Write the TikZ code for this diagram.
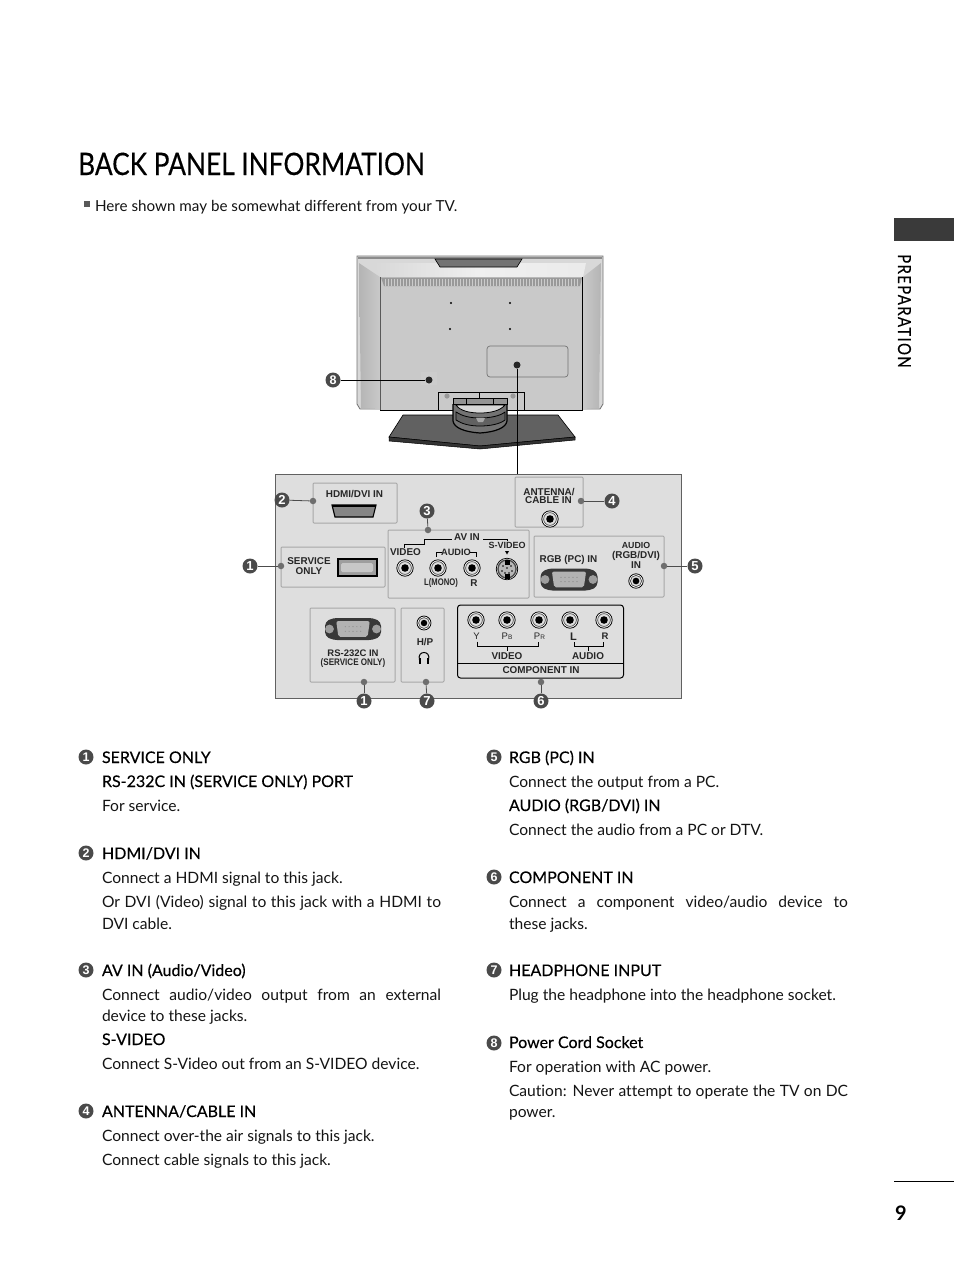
\documentclass[tikz,border=0pt]{standalone}
\usepackage{fontspec}
\setmainfont{Lato}[Ligatures={NoCommon}]
\newfontfamily\labfont{Liberation Sans}
\usetikzlibrary{calc}
\definecolor{panelgray}{HTML}{DEDEDE}
\definecolor{subedge}{HTML}{A8A8A8}
\definecolor{badgegray}{HTML}{4A4A4A}
\definecolor{dotgray}{HTML}{6E6E6E}
\definecolor{tvlight}{HTML}{D8D8D8}
\definecolor{tvmid}{HTML}{C9C9C9}
\definecolor{tvside}{HTML}{B4B4B4}
\definecolor{tabdark}{HTML}{3A3A3A}
\newcount\tlc
\newcommand{\tl}[3]{\global\advance\tlc by 1 \node[txt] (t\the\tlc) at (#1,#2) {#3};}
\newcommand{\hl}[3]{\global\advance\tlc by 1 \node[hdg] (t\the\tlc) at (#1,#2) {\addfontfeature{FakeBold=.3}#3};}
\newcommand{\jl}[3]{\global\advance\tlc by 1 \node[txt] (t\the\tlc) at (#1,#2) {\makebox[339pt][s]{#3}};}
\newcommand{\lb}[3]{\global\advance\tlc by 1 \node[lab] (t\the\tlc) at (#1,#2) {#3};}
\newcommand{\jack}[3][1]{%
  \fill[white] (#2,#3) circle ({8.6*#1});
  \draw[black,line width=.8] (#2,#3) circle ({8.2*#1});
  \draw[black!70,line width=.7,fill=panelgray] (#2,#3) circle ({6.4*#1});
  \fill[black] (#2,#3) circle ({3.8*#1});}
\newcommand{\dsub}[3]{% x width height, uses \dsubY
  \fill[black!78,rounded corners=4] (#1-#2/2,\dsubY-#3*.32) -- (#1-#2/2+#2*.14,\dsubY-#3/2) -- (#1+#2/2-#2*.14,\dsubY-#3/2) -- (#1+#2/2,\dsubY-#3*.32) -- (#1+#2/2,\dsubY+#3*.32) -- (#1+#2/2-#2*.14,\dsubY+#3/2) -- (#1-#2/2+#2*.14,\dsubY+#3/2) -- (#1-#2/2,\dsubY+#3*.32) -- cycle;
  \fill[black!38] (#1-#2/2+#2*.08,\dsubY) circle (#3*.2);
  \fill[black!38] (#1+#2/2-#2*.08,\dsubY) circle (#3*.2);
  \fill[black!30,rounded corners=2] (#1-#2*.3,\dsubY-#3*.36) -- (#1+#2*.3,\dsubY-#3*.36) -- (#1+#2*.26,\dsubY+#3*.36) -- (#1-#2*.26,\dsubY+#3*.36) -- cycle;
  \foreach \q in {-2,-1,0,1,2}{\fill[black!75] (#1+\q*#2*.07,\dsubY-#3*.1) circle (.35); \fill[black!75] (#1+\q*#2*.07,\dsubY+#3*.1) circle (.35);}}
\tikzset{
  txt/.style={anchor=base west,inner sep=0,outer sep=0,font=\fontsize{15.6}{16}\selectfont,text=black!92},
  hdg/.style={txt,font=\fontsize{16}{16}\selectfont,text=black},
  lab/.style={inner sep=0,outer sep=0,align=center,font=\labfont\bfseries\fontsize{9.9}{10}\selectfont,text=black!85},
  sub/.style={draw=subedge,line width=1,fill=panelgray,rounded corners=1,inner sep=0},
  badge/.style={circle,fill=badgegray,text=white,inner sep=0,minimum size=15,font=\labfont\bfseries\fontsize{13}{13}\selectfont},
  cbadge/.style={circle,fill=badgegray,text=white,inner sep=0,minimum size=15,font=\labfont\bfseries\fontsize{12.5}{12.5}\selectfont},
  pdot/.style={circle,fill=dotgray,inner sep=0,minimum size=6.5},
  bdot/.style={circle,fill=black!85,inner sep=0,minimum size=7},
  wire/.style={draw=black!70,line width=.8},
  brk/.style={draw=black,line width=.7},
}
\begin{document}
\begin{tikzpicture}[x=1pt,y=-1pt]
\useasboundingbox (0,0) rectangle (954,1272);
\fill[white] (0,0) rectangle (954,1272);
% Right tab and page furniture
\fill[tabdark] (894,218) rectangle (954,241);
\draw[black,line width=.8] (894,1181) -- (954,1181);
\node[inner sep=0,rotate=-90,anchor=base west,font=\fontsize{18}{18}\selectfont,text=black] (prep) at (898,254) {\scalebox{.83}[1]{\addfontfeature{LetterSpace=9,FakeBold=.2}PREPARATION}};
\node[inner sep=0,anchor=base,font=\bfseries\fontsize{20}{20}\selectfont] (pageno) at (901,1220) {9};
% Title
\node[inner sep=0,anchor=base west,font=\fontsize{31}{31}\selectfont] (title) at (78,175) {\scalebox{.846}[1]{\addfontfeature{FakeBold=.3}BACK PANEL INFORMATION}};
\fill[black!65] (84,201) rectangle (90,207);
\global\advance\tlc by 1 \node[txt,font=\fontsize{15.2}{16}\selectfont] (t\the\tlc) at (95,211) {Here shown may be somewhat different from your TV.};

% ---------- TV ----------
\path[fill=tvlight,draw=black!55,line width=.8] (357,256) -- (603,256) -- (603,404) -- (600,409) -- (360,409) -- (357,404) -- cycle;
\fill[black!45] (358,257) rectangle (602,258.5);
\shade[left color=tvside,right color=tvmid] (359,263) -- (380,277) -- (380,409) -- (361,408) -- cycle;
\shade[left color=tvmid,right color=tvside] (583,277) -- (601,263) -- (599,408) -- (583,409) -- cycle;
\shade[left color=tvlight,right color=black!8,middle color=black!6] (374,263) -- (586,263) -- (583,277) -- (380,277) -- cycle;
\path[fill=black!55,draw=black,line width=.6] (435,259) -- (522,259) -- (517,267) -- (440,267) -- cycle;
\fill[tvmid] (380,277) rectangle (583,410);
\fill[black!40] (381,277.5) -- (582,277.5) -- (580,286) -- (384,286) -- cycle;
\foreach \vx in {385,388,...,578}{\draw[black!20,line width=.5] (\vx,278.5) -- (\vx,285.5);}
\draw[black!65,line width=.9] (380.5,277) -- (380.5,410);
\draw[black,line width=1] (582.5,277) -- (582.5,410) -- (380,410);
\foreach \hx/\hy in {451/303,510/303,450/329,510/329}{\fill[black] (\hx,\hy) circle (1.2);}
\path[draw=black!55,fill=tvmid,line width=.7,rounded corners=3] (487,346) rectangle (568,377);
\fill[black!20] (421,372) rectangle (437,385);
% Stand neck
\path[draw=black,fill=tvmid,line width=.9] (438,410) -- (438,392) -- (524,392) -- (524,410);
\draw[black,line width=.9] (479,392) -- (479,398);
\fill[black!40] (447,396) circle (2.6);
\fill[black!40] (513,396) circle (2.6);
% Stand base
\path[fill=black!62,draw=black,line width=.6] (403,415) -- (558,415) -- (575,437) -- (480,446) -- (389,437) -- cycle;
\path[fill=black!80,draw=black,line width=.5] (389,437) -- (480,446) -- (575,437) -- (575,440) -- (480,449) -- (389,441) -- cycle;
% Stand bracket
\path[fill=black!55] (453,404) -- (453,421) .. controls (454,428) and (465,432) .. (480,433) .. controls (495,432) and (506,428) .. (507,421) -- (507,404) -- cycle;
\path[fill=black!42,draw=black,line width=.9] (453,404) -- (453,398) -- (507,398) -- (507,404) -- cycle;
\draw[black,line width=.9] (466,398) -- (466,404) (493,398) -- (493,404);
\path[draw=black,line width=1.2] (453,404) -- (453,421) .. controls (454,428) and (465,432) .. (480,433) .. controls (495,432) and (506,428) .. (507,421) -- (507,404);
\path[draw=black,fill=tvlight,line width=.8] (456,405) .. controls (460,411) and (470,413) .. (480,413) .. controls (490,413) and (500,411) .. (505,405) -- cycle;
\path[draw=black,fill=black!62,line width=.8] (456,420) -- (456,412) .. controls (462,416) and (470,418) .. (480,418) .. controls (490,418) and (500,416) .. (505,412) -- (505,420) .. controls (500,424) and (490,426) .. (480,426) .. controls (470,426) and (462,424) .. (456,420) -- cycle;
\fill[black!35] (476,418) -- (485,418) -- (483,422) -- (478,422) -- cycle;
\node[bdot] (powerdot) at (429,380) {};
\node[bdot] (inputdot) at (517,365) {};
\node[cbadge] (b8) at (333,380) {8};
\draw[draw=black,line width=.8] (b8) -- (powerdot);

% ---------- Connection panel ----------
\node[draw=black!62,line width=1,fill=panelgray,minimum width=406,minimum height=224,inner sep=0] (panel) at (478,586) {};
\draw[draw=black,line width=.8] (inputdot) -- (panel.north -| inputdot);

\node[sub,minimum width=84,minimum height=40] (hdmi) at (355,503) {};
\node[sub,minimum width=104,minimum height=40] (service) at (333,567) {};
\node[sub,minimum width=141,minimum height=68] (av) at (458.5,564) {};
\node[sub,minimum width=68,minimum height=50] (ant) at (549,502) {};
\node[sub,minimum width=130,minimum height=61] (rgb) at (599,566.5) {};
\node[sub,minimum width=85,minimum height=74] (rs) at (352.5,645) {};
\node[sub,minimum width=43,minimum height=74] (hp) at (422.5,645) {};
\node[draw=black,line width=1,fill=panelgray,rounded corners=3,inner sep=0,minimum width=166,minimum height=73] (comp) at (540.5,641.5) {};

% dots and badges
\node[pdot] (d2) at (313,501) {}; \node[badge] (b2) at (282,500) {2}; \draw[wire] (b2) -- (d2);
\node[pdot] (d1a) at (281,566) {}; \node[badge] (b1a) at (250,566) {1}; \draw[wire] (b1a) -- (d1a);
\node[pdot] (d3) at (428,530) {}; \node[badge] (b3) at (427,511) {3}; \draw[wire] (b3) -- (d3);
\node[pdot] (d4) at (581,501) {}; \node[badge] (b4) at (612,501) {4}; \draw[wire] (b4) -- (d4);
\node[pdot] (d5) at (664,566) {}; \node[badge] (b5) at (695,566) {5}; \draw[wire] (b5) -- (d5);
\node[pdot] (d1b) at (364,682) {}; \node[badge] (b1b) at (364,701) {1}; \draw[wire] (b1b) -- (d1b);
\node[pdot] (d7) at (426,682) {}; \node[badge] (b7) at (427,701) {7}; \draw[wire] (b7) -- (d7);
\node[pdot] (d6) at (541,682) {}; \node[badge] (b6) at (541,701) {6}; \draw[wire] (b6) -- (d6);

% HDMI
\lb{354.5}{494}{HDMI/DVI IN}
\path[fill=black!48,draw=black,line width=1.1] (332,505) -- (376,505) -- (373,517) -- (335,517) -- cycle;
\fill[black] (332,505) rectangle (376,506.5);
% Service only
\lb{309}{566.5}{SERVICE\\ONLY}
\path[draw=black,line width=1.2,fill=black!38] (338,559) rectangle (377,576);
\fill[black!22,rounded corners=1.5] (341,563) rectangle (373,572);
% AV IN
\lb{467}{537}{AV IN}
\lb{405.5}{552}{VIDEO}
\lb{456}{552}{\fontsize{9.2}{10}\selectfont AUDIO}
\lb{507}{545.5}{\fontsize{9}{10}\selectfont S-VIDEO}
\lb{441}{583.5}{\scalebox{.8}[1]{\fontsize{9.6}{10}\selectfont L(MONO)}}
\lb{474}{583.5}{R}
\draw[brk] (451.5,539.5) -- (424,539.5) -- (424,544.5) -- (404,544.5) -- (404,548);
\draw[brk] (483,539) -- (507,539) -- (507,541);
\draw[brk] (436,557) -- (436,552) -- (441.5,552);
\draw[brk] (470,552) -- (476,552) -- (476,557);
\fill[black] (505,551) -- (509,551) -- (507,554.5) -- cycle;
\jack{405}{568}\jack{438}{568}\jack{472}{568}
% S-video
\fill[white] (507,569) circle (11.5);
\draw[black,line width=.8] (507,569) circle (10.8);
\fill[black!70] (507,569) circle (9.8);
\fill[black!28] (507,569) circle (8.2);
\fill[black] (504.5,559.5) rectangle (509.5,564.5);
\fill[black] (504.5,573.5) rectangle (509.5,578.5);
\foreach \sx/\sy in {503/566,511/566,507/568,502/571,512/571,505/573,509/573}{\fill[black] (\sx,\sy) circle (.9);}
% Antenna
\lb{549}{492}{ANTENNA/}
\lb{548.5}{500}{CABLE IN}
\jack{550}{519}
% RGB
\lb{568.5}{559.5}{RGB (PC) IN}
\lb{636}{555}{\fontsize{8.8}{9.9}\selectfont AUDIO\\(RGB/DVI)\\IN}
\def\dsubY{579.5}\dsub{569}{57}{22}
\jack[.88]{636}{581}
% RS-232C
\def\dsubY{629}\dsub{353}{56}{22}
\lb{353}{653}{\fontsize{9.5}{10}\selectfont RS-232C IN}
\lb{353}{663.5}{\scalebox{.85}[1]{\fontsize{9.5}{10}\selectfont (SERVICE ONLY)}}
% H/P
\jack[.85]{424}{623}
\lb{425}{642}{H/P}
\draw[black,line width=1] (419.5,660) .. controls (416.5,650) and (431.5,650) .. (428.5,660);
\fill[black] (419,658) rectangle (421,664);
\fill[black] (427,658) rectangle (429,664);
% Component
\draw[black,line width=1] (comp.west |- 0,663.5) -- (comp.east |- 0,663.5);
\lb{541}{670.5}{COMPONENT IN}
\jack{476}{620}\jack{507}{620}\jack{539}{620}\jack{570}{620}\jack{604}{620}
\lb{476.5}{636}{\mdseries\fontsize{9.5}{10}\selectfont Y}
\lb{507}{636}{\mdseries\fontsize{9.5}{10}\selectfont P\fontsize{6.5}{6.5}\selectfont B}
\lb{539.5}{636}{\mdseries\fontsize{9.5}{10}\selectfont P\fontsize{6.5}{6.5}\selectfont R}
\lb{605}{636}{\fontsize{9.5}{10}\selectfont R}
\lb{573.5}{636.5}{\fontsize{11}{11}\selectfont L}
\draw[brk] (477,641.5) -- (477,646) -- (538,646) -- (538,641.5);
\draw[brk] (507,646) -- (507,651);
\draw[brk] (574,642) -- (574,646) -- (603,646) -- (603,641.5);
\draw[brk] (588,646) -- (588,651);
\lb{507}{656.5}{VIDEO}
\lb{588}{656.5}{AUDIO}

% ---------- Left column ----------
\node[cbadge] (c1) at (86,757) {1};
\hl{102}{763}{SERVICE ONLY}
\hl{102}{787}{RS-232C IN (SERVICE ONLY) PORT}
\tl{102}{811}{For service.}
\node[cbadge] (c2) at (86,853) {2};
\hl{102}{859}{HDMI/DVI IN}
\tl{102}{883}{Connect a HDMI signal to this jack.}
\jl{102}{907}{Or DVI (Video) signal to this jack with a HDMI to}
\tl{102}{929}{DVI cable.}
\node[cbadge] (c3) at (86,970) {3};
\hl{102}{976}{AV IN (Audio/Video)}
\jl{102}{1000}{Connect audio/video output from an external}
\tl{102}{1021}{device to these jacks.}
\hl{102}{1045}{S-VIDEO}
\tl{102}{1069}{Connect S-Video out from an S-VIDEO device.}
\node[cbadge] (c4) at (86,1111) {4};
\hl{102}{1117}{ANTENNA/CABLE IN}
\tl{102}{1141}{Connect over-the air signals to this jack.}
\tl{102}{1165}{Connect cable signals to this jack.}
% ---------- Right column ----------
\node[cbadge] (c5) at (494,757) {5};
\hl{509}{763}{RGB (PC) IN}
\tl{509}{787}{Connect the output from a PC.}
\hl{509}{811}{AUDIO (RGB/DVI) IN}
\tl{509}{835}{Connect the audio from a PC or DTV.}
\node[cbadge] (c6) at (494,877) {6};
\hl{509}{883}{COMPONENT IN}
\jl{509}{907}{Connect a component video/audio device to}
\tl{509}{929}{these jacks.}
\node[cbadge] (c7) at (494,970) {7};
\hl{509}{976}{HEADPHONE INPUT}
\tl{509}{1000}{Plug the headphone into the headphone socket.}
\node[cbadge] (c8) at (494,1043) {8};
\hl{509}{1048}{Power Cord Socket}
\tl{509}{1072}{For operation with AC power.}
\jl{509}{1096}{Caution: Never attempt to operate the TV on DC}
\tl{509}{1117}{power.}
\end{tikzpicture}
\end{document}
